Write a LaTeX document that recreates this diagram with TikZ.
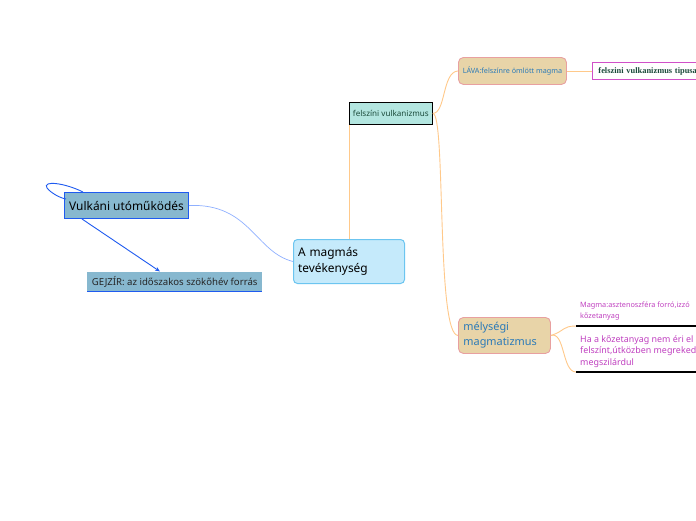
\documentclass[tikz,border=0pt]{standalone}
\usepackage{fontspec}
\setmainfont{Noto Sans}
\newfontfamily\serifbold{Liberation Serif}
\usetikzlibrary{arrows.meta}
\definecolor{vfill}{HTML}{87B8CF}
\definecolor{vblue}{HTML}{1F5BF0}
\definecolor{lblue}{HTML}{8FB0FF}
\definecolor{mfill}{HTML}{C5EAFB}
\definecolor{mborder}{HTML}{6CC5F0}
\definecolor{ffill}{HTML}{B3E6E0}
\definecolor{orng}{HTML}{FFC98A}
\definecolor{tan}{HTML}{E8D4A8}
\definecolor{pinkb}{HTML}{E8A0A0}
\definecolor{tblue}{HTML}{2A7AB8}
\definecolor{mag}{HTML}{C040C0}
\definecolor{magb}{HTML}{D050C8}
\definecolor{dgreen}{HTML}{1A4A3A}
\tikzset{
  box/.style={anchor=north west, inner sep=0pt},
  conn/.style={draw=orng, line width=0.9pt},
  uline/.style={draw=black, line width=1.5pt},
}
\begin{document}
\begin{tikzpicture}[x=1pt,y=-1pt]
\clip (0,0) rectangle (696,520);
\fill[white] (0,0) rectangle (696,520);
% nodes
\node[box, draw=vblue, fill=vfill, line width=1pt, minimum width=124pt, minimum height=26pt, font=\fontsize{11.9}{14}\selectfont] (vulk) at (64,192) {Vulkáni utóműködés};
\node[box, fill=vfill, minimum width=175pt, minimum height=19pt, font=\fontsize{9.6}{11}\selectfont, text=black!85] (gej) at (87,272) {GEJZÍR: az időszakos szökőhév forrás};
\draw[vblue, line width=1pt] (gej.south west) -- (gej.south east);
\node[box, draw=mborder, fill=mfill, line width=1pt, rounded corners=4pt, minimum width=111pt, minimum height=44pt, text width=106pt, align=left, font=\fontsize{11.9}{15.5}\selectfont] (magmas) at (293,239) {\hskip2pt A magmás\\\hskip2pt tevékenység};
\node[box, draw=black, fill=ffill, line width=0.8pt, minimum width=83pt, minimum height=22pt, font=\fontsize{8.1}{9}\selectfont, text=dgreen] (felsz) at (349,102) {felszíni vulkanizmus};
\node[box, draw=pinkb, fill=tan, line width=0.9pt, rounded corners=5pt, minimum width=108pt, minimum height=27pt, font=\fontsize{7.2}{8}\selectfont, text=tblue] (lava) at (458,57) {LÁVA:felszínre ömlött magma};
\node[box, draw=magb, fill=white, line width=0.9pt, minimum width=110pt, minimum height=17pt, font=\serifbold\bfseries\fontsize{8.4}{9}\selectfont, text=dgreen, align=left, text width=106pt] (tip) at (592,62) {\hskip4pt felszini vulkanizmus tipusai};
\node[box, draw=pinkb, fill=tan, line width=0.9pt, rounded corners=5pt, minimum width=92pt, minimum height=36pt, text width=88pt, align=left, font=\fontsize{10.9}{15}\selectfont, text=tblue] (mely) at (458,317) {\hskip3pt mélységi\\\hskip3pt magmatizmus};
\node[box, font=\fontsize{7.3}{11}\selectfont, text=mag, align=left] (mtext) at (580,302) {Magma:asztenoszféra forró,izzó\\kőzetanyag};
\node[box, font=\fontsize{8.9}{11.5}\selectfont, text=mag, align=left] (htext) at (580,335) {Ha a kőzetanyag nem éri el a\\felszínt,útközben megreked,lassan\\megszilárdul};
% coordinates
\coordinate (u1s) at (576,326);
\coordinate (u1e) at (700,326);
\coordinate (u2s) at (576,372);
\coordinate (u2e) at (700,372);
\coordinate (loopa) at (83,192);
\coordinate (loopb) at (66,199);
\coordinate (arrs) at (82,219);
\coordinate (arre) at (160,271.5);
% connectors
\draw[vblue, line width=0.9pt] (loopa) .. controls (65,183) and (42,180) .. (47,188) .. controls (51,193) and (60,198) .. (loopb);
\draw[vblue, line width=0.9pt, -{Stealth[length=5pt,width=4pt]}] (arrs) -- (arre);
\draw[lblue, line width=0.7pt] (vulk.east) .. controls (250,203) and (255,252) .. (magmas.west);
\draw[conn] (magmas.north) -- (felsz.south west);
\draw[conn] (felsz.east) .. controls (446,113) and (442,72) .. (lava.west);
\draw[conn] (felsz.east) .. controls (446,113) and (436,335) .. (mely.west);
\draw[conn] (lava.east) -- (tip.west);
\draw[conn] (mely.east) .. controls (565,331) and (562,326) .. (u1s);
\draw[conn] (mely.east) .. controls (565,331) and (562,372) .. (u2s);
\draw[uline] (u1s) -- (u1e);
\draw[uline] (u2s) -- (u2e);
\end{tikzpicture}
\end{document}
